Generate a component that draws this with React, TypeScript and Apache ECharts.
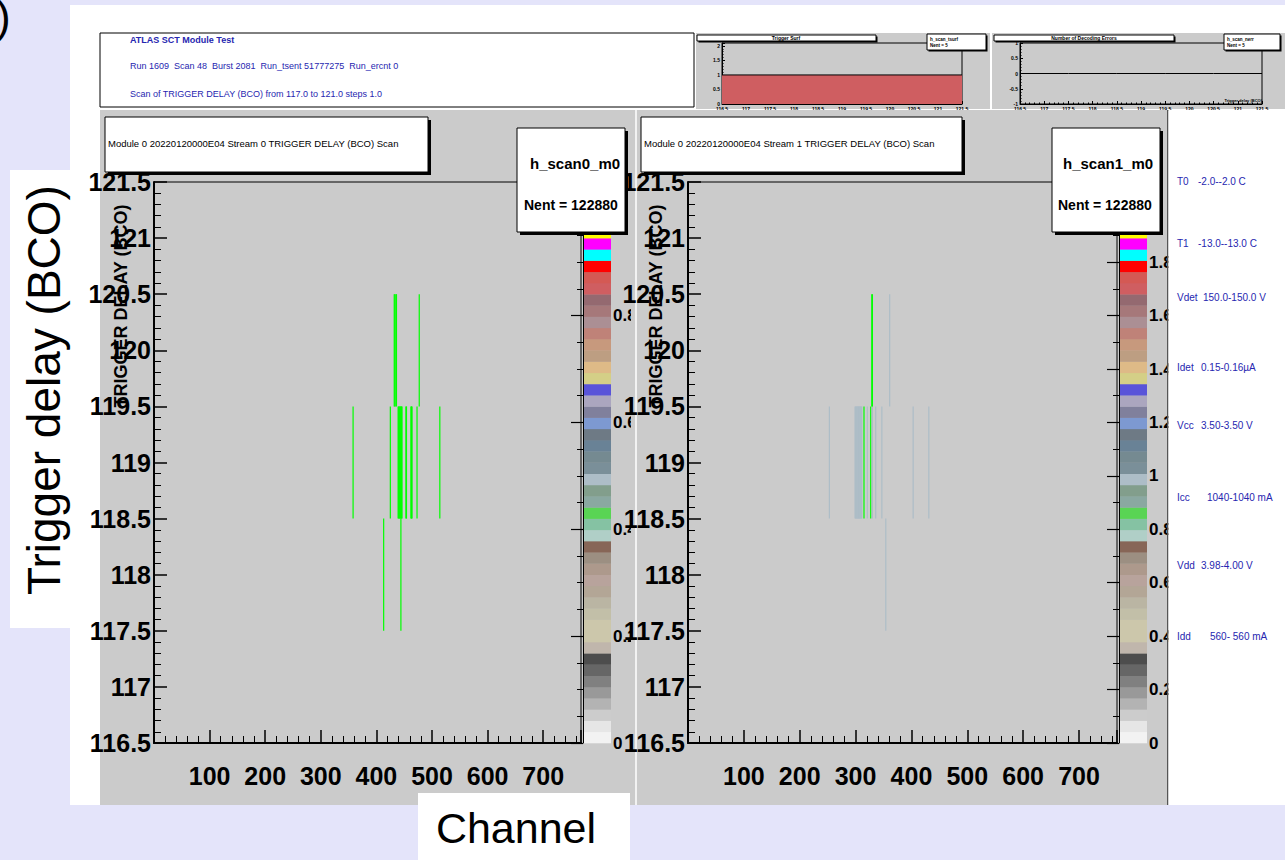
import React, { useEffect, useRef } from 'react';
import * as echarts from 'echarts';

const SANS = "'Liberation Sans', Arial, Helvetica, sans-serif";
const BLUE = '#2626b0';

// ---------------- data ----------------
const delaySteps = [117, 118, 119, 120, 121];
const channelTickLabels = [100, 200, 300, 400, 500, 600, 700];

// [channel, trigger delay (BCO), entries]
const stream0Cells = [
  [412, 118, 1], [443, 118, 1],
  [357, 119, 1], [424, 119, 1],
  [438, 119, 1], [439, 119, 1], [440, 119, 1], [441, 119, 1], [442, 119, 1], [443, 119, 1], [444, 119, 1], [445, 119, 1],
  [452, 119, 1], [453, 119, 1], [461, 119, 1], [462, 119, 1], [463, 119, 1], [472, 119, 1], [513, 119, 1],
  [431, 120, 1], [432, 120, 1], [434, 120, 1], [435, 120, 1], [476, 120, 1],
];
const stream1Cells = [
  [353, 118, 1],
  [252, 119, 1],
  [298, 119, 1], [299, 119, 1], [300, 119, 1], [301, 119, 1], [302, 119, 1], [303, 119, 1], [304, 119, 1],
  [305, 119, 1], [306, 119, 1], [307, 119, 1], [308, 119, 1], [309, 119, 1], [310, 119, 1],
  [314, 119, 2], [320, 119, 1], [326, 119, 2], [329, 119, 1], [335, 119, 1], [346, 119, 1], [402, 119, 1], [430, 119, 1],
  [328, 120, 2], [329, 120, 2], [360, 120, 1],
];
const stream0Zmax = 1.05;
const stream1Zmax = 2.1;

const triggerSurfValues = [1, 1, 1, 1, 1];
const decodingErrorValues = [0, 0, 0, 0, 0];

// ROOT default 50-colour palette, bottom to top
const palette = [
  '#f2f2f2', '#e6e6e6', '#cccccc', '#b3b3b3', '#999999', '#808080', '#666666', '#4d4d4d',
  '#c0b6ac', '#ccc7ab', '#ccc7ab', '#c2bfa8', '#bab5a3', '#b3a696', '#b8a39c', '#ad998c',
  '#9c8f82', '#876657', '#b0cfc7', '#85c2a3', '#59d454', '#8aa8a1', '#829e8c', '#adbdc7',
  '#7a8f99', '#758a91', '#698296', '#6e7a85', '#7d99d1', '#80809c', '#aba6bf', '#5954d9',
  '#d4cf87', '#deba87', '#bd9e82', '#c7997d', '#bf8278', '#ab8f94', '#a6787a', '#946970',
  '#cf5e61', '#d45954', '#ff0000', '#00ffff', '#ff00ff', '#ffff00', '#0000ff', '#00ff00',
  '#000000', '#000000',
];

const headerLines = [
  'ATLAS SCT Module Test',
  'Run 1609  Scan 48  Burst 2081  Run_tsent 51777275  Run_ercnt 0',
  'Scan of TRIGGER DELAY (BCO) from 117.0 to 121.0 steps 1.0',
];
const panelTitles = [
  'Module 0 20220120000E04 Stream 0 TRIGGER DELAY (BCO) Scan',
  'Module 0 20220120000E04 Stream 1 TRIGGER DELAY (BCO) Scan',
];
const histNames = ['h_scan0_m0', 'h_scan1_m0'];
const histEntries = [122880, 122880];
const monitorNames = ['T0', 'T1', 'Vdet', 'Idet', 'Vcc', 'Icc', 'Vdd', 'Idd'];
const monitorRanges = ['-2.0--2.0 C', '-13.0--13.0 C', '150.0-150.0 V', '0.15-0.16\u00b5A', '3.50-3.50 V', '1040-1040 mA', '3.98-4.00 V', '560- 560 mA'];
const miniTitles = ['Trigger Surf', 'Number of Decoding Errors'];
const miniNames = ['h_scan_tsurf', 'h_scan_nerr'];
const miniEntries = [5, 5];

// ---------------- helpers ----------------
const rect = (x: number, y: number, w: number, h: number, fill: string, z: number, stroke?: string, lw?: number) => ({
  type: 'rect', z, silent: true,
  shape: { x, y, width: w, height: h },
  style: { fill, stroke: stroke || null, lineWidth: lw || 0 },
});
const text = (x: number, y: number, t: string, o: any = {}) => ({
  type: 'text', x, y, z: o.z ?? 21, rotation: o.rotation ?? 0, silent: true,
  style: {
    text: t, fill: o.color ?? '#000', fontSize: o.size ?? 10, fontFamily: o.family ?? SANS,
    fontWeight: o.weight ?? 'normal', align: o.align ?? 'left', verticalAlign: o.va ?? 'middle',
  },
});
const box = (x: number, y: number, w: number, h: number, z = 20, sh = 3) => [
  rect(x + sh, y + sh, w, h, '#000', z - 1),
  rect(x, y, w, h, '#fff', z, '#000', 1),
];

const cellSeries = (cells: number[][], idx: number, zmax: number, z: number) => ({
  type: 'custom', xAxisIndex: idx, yAxisIndex: idx, z, clip: true,
  encode: { x: 0, y: 1 },
  data: cells,
  renderItem: (_p: any, api: any) => {
    const ch = api.value(0), d = api.value(1), v = api.value(2);
    const a = api.coord([ch, d + 0.5]);
    const b = api.coord([ch + 1, d - 0.5]);
    const k = Math.min(palette.length - 1, Math.floor((v / zmax) * palette.length));
    return {
      type: 'rect',
      shape: { x: a[0], y: a[1], width: Math.max(b[0] - a[0], 1.2), height: b[1] - a[1] },
      style: { fill: palette[k] },
    };
  },
});

const paletteSeries = (idx: number, zmax: number, z: number) => ({
  type: 'custom', xAxisIndex: idx, yAxisIndex: idx, z, clip: false,
  encode: { x: 0, y: [1, 2] },
  data: palette.map((_c, i) => [0, (i * zmax) / palette.length, ((i + 1) * zmax) / palette.length]),
  renderItem: (params: any, api: any) => {
    const a = api.coord([0, api.value(2)]);
    const b = api.coord([1, api.value(1)]);
    return {
      type: 'rect',
      shape: { x: a[0], y: a[1], width: b[0] - a[0], height: b[1] - a[1] + 0.3 },
      style: { fill: palette[params.dataIndex] },
    };
  },
});

const miniSeries = (values: number[], idx: number, fill: string | null) => ({
  type: 'custom', xAxisIndex: idx, yAxisIndex: idx, z: 2, clip: true,
  encode: { x: 0, y: 1 },
  data: delaySteps.map((d, i) => [d, values[i]]),
  renderItem: (_p: any, api: any) => {
    const x = api.value(0), v = api.value(1);
    const a = api.coord([x - 0.5, v]);
    const b = api.coord([x + 0.5, 0]);
    const children: any[] = [];
    if (fill) children.push({ type: 'rect', shape: { x: a[0], y: a[1], width: b[0] - a[0], height: b[1] - a[1] }, style: { fill } });
    children.push({ type: 'line', shape: { x1: a[0], y1: a[1], x2: b[0], y2: a[1] }, style: { stroke: '#000', lineWidth: 1 } });
    return { type: 'group', children };
  },
});

const mainX = (idx: number, z: number) => ({
  gridIndex: idx, type: 'value', min: 0, max: 768, interval: 100, z,
  axisLine: { show: true, onZero: false, lineStyle: { color: '#000', width: 2 } },
  axisTick: { show: true, inside: true, length: 13, lineStyle: { color: '#000', width: 1.5 } },
  minorTick: { show: true, splitNumber: 5, length: 7, lineStyle: { color: '#000', width: 1 } },
  splitLine: { show: false },
  axisLabel: {
    color: '#000', fontFamily: SANS, fontWeight: 'bold', fontSize: 25, margin: 20,
    formatter: (v: number) => (channelTickLabels.indexOf(v) >= 0 ? String(v) : ''),
  },
});
const mainY = (idx: number, z: number) => ({
  gridIndex: idx, type: 'value', min: 116.5, max: 121.5, interval: 0.5, z,
  axisLine: { show: true, onZero: false, lineStyle: { color: '#000', width: 2 } },
  axisTick: { show: true, inside: true, length: 13, lineStyle: { color: '#000', width: 1.5 } },
  minorTick: { show: true, splitNumber: 5, length: 7, lineStyle: { color: '#000', width: 1 } },
  splitLine: { show: false },
  axisLabel: { color: '#000', fontFamily: SANS, fontWeight: 'bold', fontSize: 25, margin: 3 },
});
const cbX = (idx: number) => ({ gridIndex: idx, type: 'value', min: 0, max: 1, show: false });
const cbY = (idx: number, zmax: number, z: number, minor: number) => ({
  gridIndex: idx, type: 'value', position: 'right', min: 0, max: zmax, interval: 0.2, z,
  axisLine: { show: true, lineStyle: { color: '#000', width: 1 } },
  axisTick: { show: true, inside: true, length: 12, lineStyle: { color: '#000', width: 1.2 } },
  minorTick: { show: true, splitNumber: minor, length: 6, lineStyle: { color: '#000', width: 1 } },
  splitLine: { show: false },
  axisLabel: {
    color: '#000', fontFamily: SANS, fontWeight: 'bold', fontSize: 17, margin: 2,
    formatter: (v: number) => {
      const r = Math.round(v * 5) / 5;
      return Math.abs(v - r) < 1e-6 ? String(Math.round(r * 10) / 10) : '';
    },
  },
});
const miniX = (idx: number) => ({
  gridIndex: idx, type: 'value', min: 116.5, max: 121.5, interval: 0.5,
  axisLine: { show: true, onZero: false, lineStyle: { color: '#000', width: 1 } },
  axisTick: { show: true, inside: true, length: 3, lineStyle: { color: '#000' } },
  minorTick: { show: true, splitNumber: 5, length: 1.5, lineStyle: { color: '#000' } },
  splitLine: { show: false },
  axisLabel: { color: '#000', fontFamily: SANS, fontWeight: 'bold', fontSize: 5, margin: 2 },
});
const miniY = (idx: number, min: number, max: number) => ({
  gridIndex: idx, type: 'value', min, max, interval: 0.5,
  axisLine: { show: true, onZero: false, lineStyle: { color: '#000', width: 1 } },
  axisTick: { show: true, inside: true, length: 3, lineStyle: { color: '#000' } },
  minorTick: { show: true, splitNumber: 5, length: 1.5, lineStyle: { color: '#000' } },
  splitLine: { show: false },
  axisLabel: { color: '#000', fontFamily: SANS, fontWeight: 'bold', fontSize: 5, margin: 2 },
});

const monitorY = [181, 243, 297, 367, 425, 497, 565, 636];
const monitorValX = [1198, 1198, 1203, 1201, 1201, 1207, 1201, 1210];

const graphics: any[] = [
  rect(0, 0, 1285, 860, '#e4e4fa', -12),
  rect(70, 5, 1215, 800, '#ffffff', -11),
  rect(100, 110, 535, 695, '#cbcbcb', -10),
  rect(696, 33, 294, 76, '#cbcbcb', -10),
  rect(992, 33, 293, 76, '#cbcbcb', -10),
  rect(631, 110, 537, 695, '#cbcbcb', 4),
  rect(635, 110, 2, 695, '#f2f2f2', 4),
  rect(1167, 110, 1.5, 695, '#555', 8),
  rect(1168.5, 110, 117, 695, '#ffffff', 8),
  rect(100, 33, 594, 74, '#ffffff', -9, '#000', 1),
  text(130, 40, headerLines[0], { color: BLUE, size: 9, weight: 'bold', z: 1 }),
  text(130, 66, headerLines[1], { color: BLUE, size: 9, z: 1 }),
  text(130, 94, headerLines[2], { color: BLUE, size: 9, z: 1 }),
  ...box(105, 117, 323, 55),
  text(108, 143, panelTitles[0], { size: 9.5 }),
  ...box(641, 117, 321, 55),
  text(644, 143, panelTitles[1], { size: 9.5 }),
  ...box(517, 128, 108, 104),
  text(530, 163, histNames[0], { size: 15, weight: 'bold' }),
  text(524, 205, 'Nent = ' + histEntries[0], { size: 14, weight: 'bold' }),
  ...box(1052, 128, 108, 104),
  text(1063, 163, histNames[1], { size: 15, weight: 'bold' }),
  text(1058, 205, 'Nent = ' + histEntries[1], { size: 14, weight: 'bold' }),
  text(121, 306, 'TRIGGER DELAY (BCO)', { size: 18, weight: 'bold', rotation: Math.PI / 2, align: 'center', z: 3 }),
  text(656, 306, 'TRIGGER DELAY (BCO)', { size: 18, weight: 'bold', rotation: Math.PI / 2, align: 'center', z: 8 }),
  ...box(697, 35, 179, 6, 20, 1.5),
  text(786, 38, miniTitles[0], { size: 5, weight: 'bold', align: 'center' }),
  ...box(994, 35, 180, 6, 20, 1.5),
  text(1084, 38, miniTitles[1], { size: 5, weight: 'bold', align: 'center' }),
  ...box(927, 34, 59, 16, 20, 1.5),
  text(930, 39, miniNames[0], { size: 4.5, weight: 'bold' }),
  text(930, 45, 'Nent = ' + miniEntries[0], { size: 4.5, weight: 'bold' }),
  ...box(1224, 34, 56, 16, 20, 1.5),
  text(1227, 39, miniNames[1], { size: 4.5, weight: 'bold' }),
  text(1227, 45, 'Nent = ' + miniEntries[1], { size: 4.5, weight: 'bold' }),
  text(1262, 100, 'Trigger delay (BCO)', { size: 4, weight: 'bold', align: 'right' }),
  ...monitorNames.map((n, i) => text(1177, monitorY[i], n, { color: BLUE, size: 10, z: 9 })),
  ...monitorRanges.map((r, i) => text(monitorValX[i], monitorY[i], r, { color: BLUE, size: 10, z: 9 })),
  rect(10, 170, 60, 458, '#ffffff', 30),
  text(44, 390, 'Trigger delay (BCO)', { size: 46, rotation: Math.PI / 2, align: 'center', z: 31 }),
  rect(418, 793, 212, 67, '#ffffff', 30),
  text(516, 828, 'Channel', { size: 43, align: 'center', z: 31 }),
  text(-4, 16, ')', { size: 44, z: 31 }),
];

const option: any = {
  animation: false,
  grid: [
    { left: 154, top: 182, width: 427, height: 561, show: true, backgroundColor: '#cbcbcb', borderColor: '#000', borderWidth: 1, z: 0, outerBoundsMode: 'none' },
    { left: 688, top: 182, width: 429, height: 561, show: true, backgroundColor: '#cbcbcb', borderColor: '#000', borderWidth: 1, z: 5, outerBoundsMode: 'none' },
    { left: 583, top: 182, width: 28, height: 561, z: 0, outerBoundsMode: 'none' },
    { left: 1119, top: 182, width: 28, height: 561, z: 5, outerBoundsMode: 'none' },
    { left: 722, top: 43, width: 240, height: 61, show: true, backgroundColor: '#cbcbcb', borderColor: '#000', borderWidth: 1, outerBoundsMode: 'none' },
    { left: 1020, top: 43, width: 242, height: 61, show: true, backgroundColor: '#cbcbcb', borderColor: '#000', borderWidth: 1, outerBoundsMode: 'none' },
  ],
  xAxis: [mainX(0, 3), mainX(1, 7), cbX(2), cbX(3), miniX(4), miniX(5)],
  yAxis: [mainY(0, 3), mainY(1, 7), cbY(2, stream0Zmax, 3, 4), cbY(3, stream1Zmax, 7, 2), miniY(4, 0, 2.1), miniY(5, -1, 1)],
  series: [
    cellSeries(stream0Cells, 0, stream0Zmax, 2),
    cellSeries(stream1Cells, 1, stream1Zmax, 6),
    paletteSeries(2, stream0Zmax, 2),
    paletteSeries(3, stream1Zmax, 6),
    miniSeries(triggerSurfValues, 4, '#cf5e61'),
    miniSeries(decodingErrorValues, 5, null),
  ],
  graphic: { elements: graphics },
};

export default function App() {
  const ref = useRef<HTMLDivElement>(null);
  useEffect(() => {
    document.body.style.margin = '0';
    const chart = echarts.init(ref.current!, null, { renderer: 'svg', width: 1285, height: 860 });
    chart.setOption(option);
    return () => chart.dispose();
  }, []);
  return <div ref={ref} style={{ position: 'absolute', left: 0, top: 0, width: 1285, height: 860 }} />;
}
